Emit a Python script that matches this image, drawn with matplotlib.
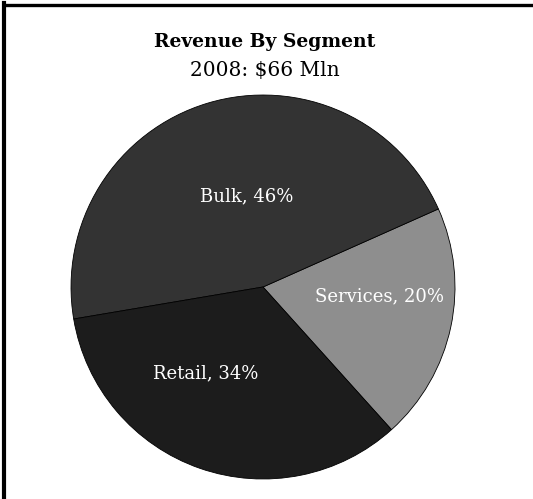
import numpy as np
import matplotlib.pyplot as plt
from matplotlib.lines import Line2D

# Данные по сегментам
segments = ['Services', 'Bulk', 'Retail']
shares = [20, 46, 34]
colors = ['#8e8e8e', '#333333', '#1c1c1c']
# положение подписей: доля радиуса и угол (градусы)
label_r = [0.61, 0.48, 0.54]
label_ang = [-4.4, 100.0, 236.5]

plt.rcParams['font.family'] = ['DejaVu Serif']

fig = plt.figure(figsize=(5.33, 4.99), dpi=100)

# Линии рамки сверху и слева
fig.add_artist(Line2D([0.008, 1.0], [0.990, 0.990], transform=fig.transFigure,
                      color='black', linewidth=2.4))
fig.add_artist(Line2D([0.008, 0.008], [0.0, 0.993], transform=fig.transFigure,
                      color='black', linewidth=3.0))

fig.text(0.496, 0.916, 'Revenue By Segment', ha='center', va='center',
         fontsize=13.5, fontweight='bold')
fig.text(0.496, 0.859, '2008: $66 Mln', ha='center', va='center', fontsize=14.5)

ax = fig.add_axes([0.1332, 0.0401, 0.7205, 0.7695])
wedges, _ = ax.pie(shares, colors=colors, startangle=-48, counterclock=True,
                   wedgeprops={'edgecolor': 'black', 'linewidth': 0.6})

# Подписи внутри секторов
for name, val, r, a in zip(segments, shares, label_r, label_ang):
    t = np.deg2rad(a)
    ax.text(r * np.cos(t), r * np.sin(t), f'{name}, {val}%', color='white',
            ha='center', va='center', fontsize=13)

ax.set_xlim(-1, 1)
ax.set_ylim(-1, 1)
ax.set_aspect('equal')

plt.savefig('out.png')
